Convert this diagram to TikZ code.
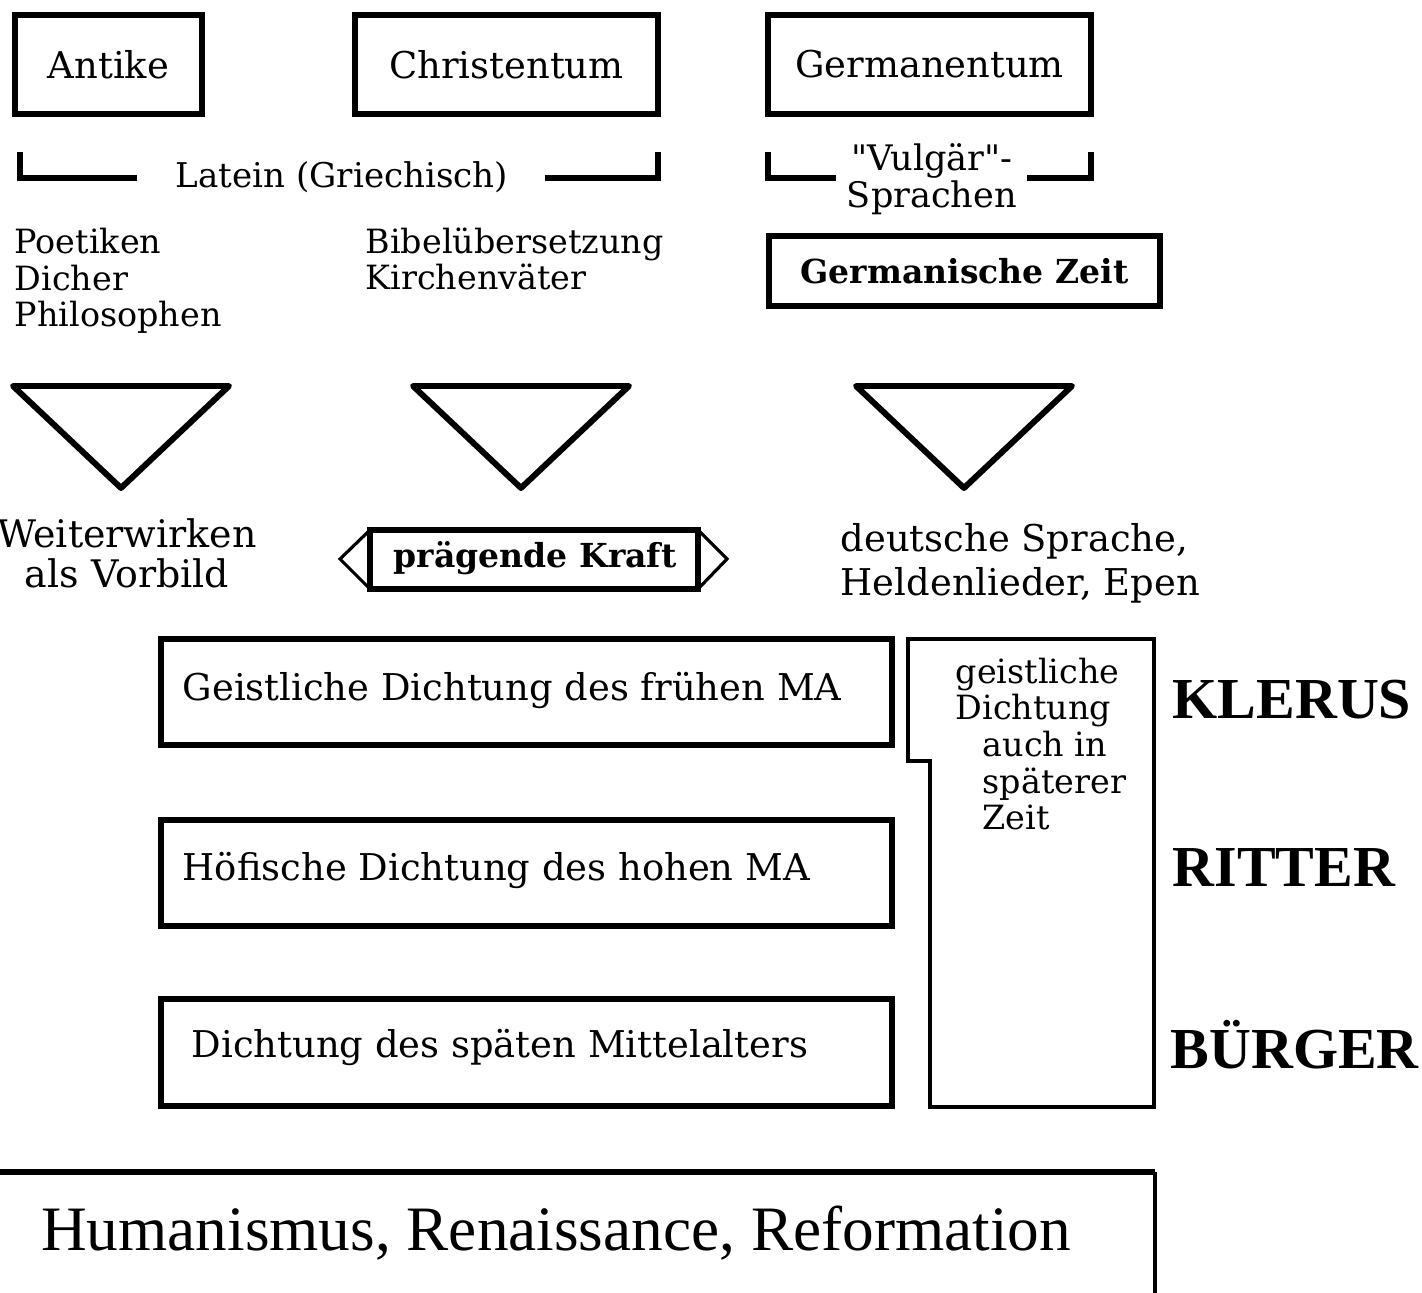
\documentclass[tikz,border=0pt]{standalone}
\usepackage{fontspec}
\setmainfont{DejaVu Serif}[Ligatures=TeXOff]
\newfontfamily\timesfont{Liberation Serif}
\begin{document}
\begin{tikzpicture}[x=0.1mm,y=-0.1mm]

  \tikzstyle{box} = [line width=1.7pt]
  \tikzstyle{thin} = [line width=0.9pt]
  \tikzstyle{title} = [font=\fontsize{10.5}{11}\selectfont]
  \tikzstyle{lines} = [font=\fontsize{9.5}{10.5}\selectfont, align=left, anchor=base west, inner sep=0]
  \tikzstyle{wide} = [font=\fontsize{10.5}{12}\selectfont, anchor=west, inner sep=0]
  \tikzstyle{heavy} = [font=\bfseries\fontsize{9.4}{10}\selectfont]
  \tikzstyle{stand} = [font=\timesfont\bfseries\fontsize{16.5}{17}\selectfont, anchor=west, inner sep=0]

  \useasboundingbox (0,0) rectangle (1422,1293);

  \draw[box] (15,15) rectangle (202,114) node[midway,title] (antike) {Antike};
  \draw[box] (355,15) rectangle (658,114) node[midway,title] (christ) {Christentum};
  \draw[box] (768,15) rectangle (1091,114) node[midway,title] (germ) {Germanentum};

  \node[title, font=\fontsize{9.7}{10.5}\selectfont] (latein) at (342,177) {Latein (Griechisch)};
  \draw[box] (20,152) |- (137,178);
  \draw[box] (545,178) -| (658,152);

  \node[title, align=center, font=\fontsize{10}{10.5}\selectfont] (vulgaer) at (932,179) {"Vulgär"-\\Sprachen};
  \draw[box] (768,152) |- (836,178);
  \draw[box] (1027,178) -| (1091,152);

  % base anchor sits on the last line
  \node[lines] (quellen1) at (14,327) {Poetiken\\Dicher\\Philosophen};
  \node[lines] (quellen2) at (365,290) {Bibelübersetzung\\Kirchenväter};
  \draw[box] (769,236) rectangle (1160,306) node[midway,heavy] (gzeit) {Germanische Zeit};

  \foreach \x in {121,521,964}
    \draw[box, line join=round] (\x-108,386) -- (\x+108,386) -- (\x,488) -- cycle;

  \node[align=center, font=\fontsize{10.8}{11.4}\selectfont] (vorbild) at (127,553) {Weiterwirken\\als Vorbild};
  \node[heavy] (kraft) at (535,558) {prägende Kraft};
  \draw[box] (370,530) rectangle (698,589);
  \draw[thin] (370,530) -- (340,559) -- (370,589);
  \draw[thin] (698,530) -- (727,559) -- (698,589);
  \node[lines, font=\fontsize{10.5}{12.8}\selectfont] (sprache) at (840,596) {deutsche Sprache,\\Heldenlieder, Epen};

  \draw[box] (161,639) rectangle (892,745);
  \draw[box] (161,820) rectangle (892,926);
  \draw[box] (161,999) rectangle (892,1106);
  \node[wide] (frueh) at (182,690) {Geistliche Dichtung des frühen MA};
  \node[wide] (hoch) at (182,870) {Höfische Dichtung des hohen MA};
  \node[wide] (spaet) at (191,1047) {Dichtung des späten Mittelalters};

  \draw[thin] (908,639) -- (1154,639) -- (1154,1107) -- (930,1107) -- (930,761) -- (908,761) -- cycle;
  \node[lines] (geist1) at (955,720) {geistliche\\Dichtung};
  \node[lines] (geist2) at (982,830) {auch in\\späterer\\Zeit};

  \node[stand] (klerus) at (1172,700) {KLERUS};
  \node[stand] (ritter) at (1172,868) {RITTER};
  \node[stand] (buerger) at (1170,1045) {BÜRGER};

  \draw[box] (0,1172) -- (1155,1172);
  \draw[thin] (1155,1172) -- (1155,1293);
  \node[font=\timesfont\fontsize{18}{20}\selectfont] (humanismus) at (556,1233) {Humanismus, Renaissance, Reformation};

\end{tikzpicture}
\end{document}
